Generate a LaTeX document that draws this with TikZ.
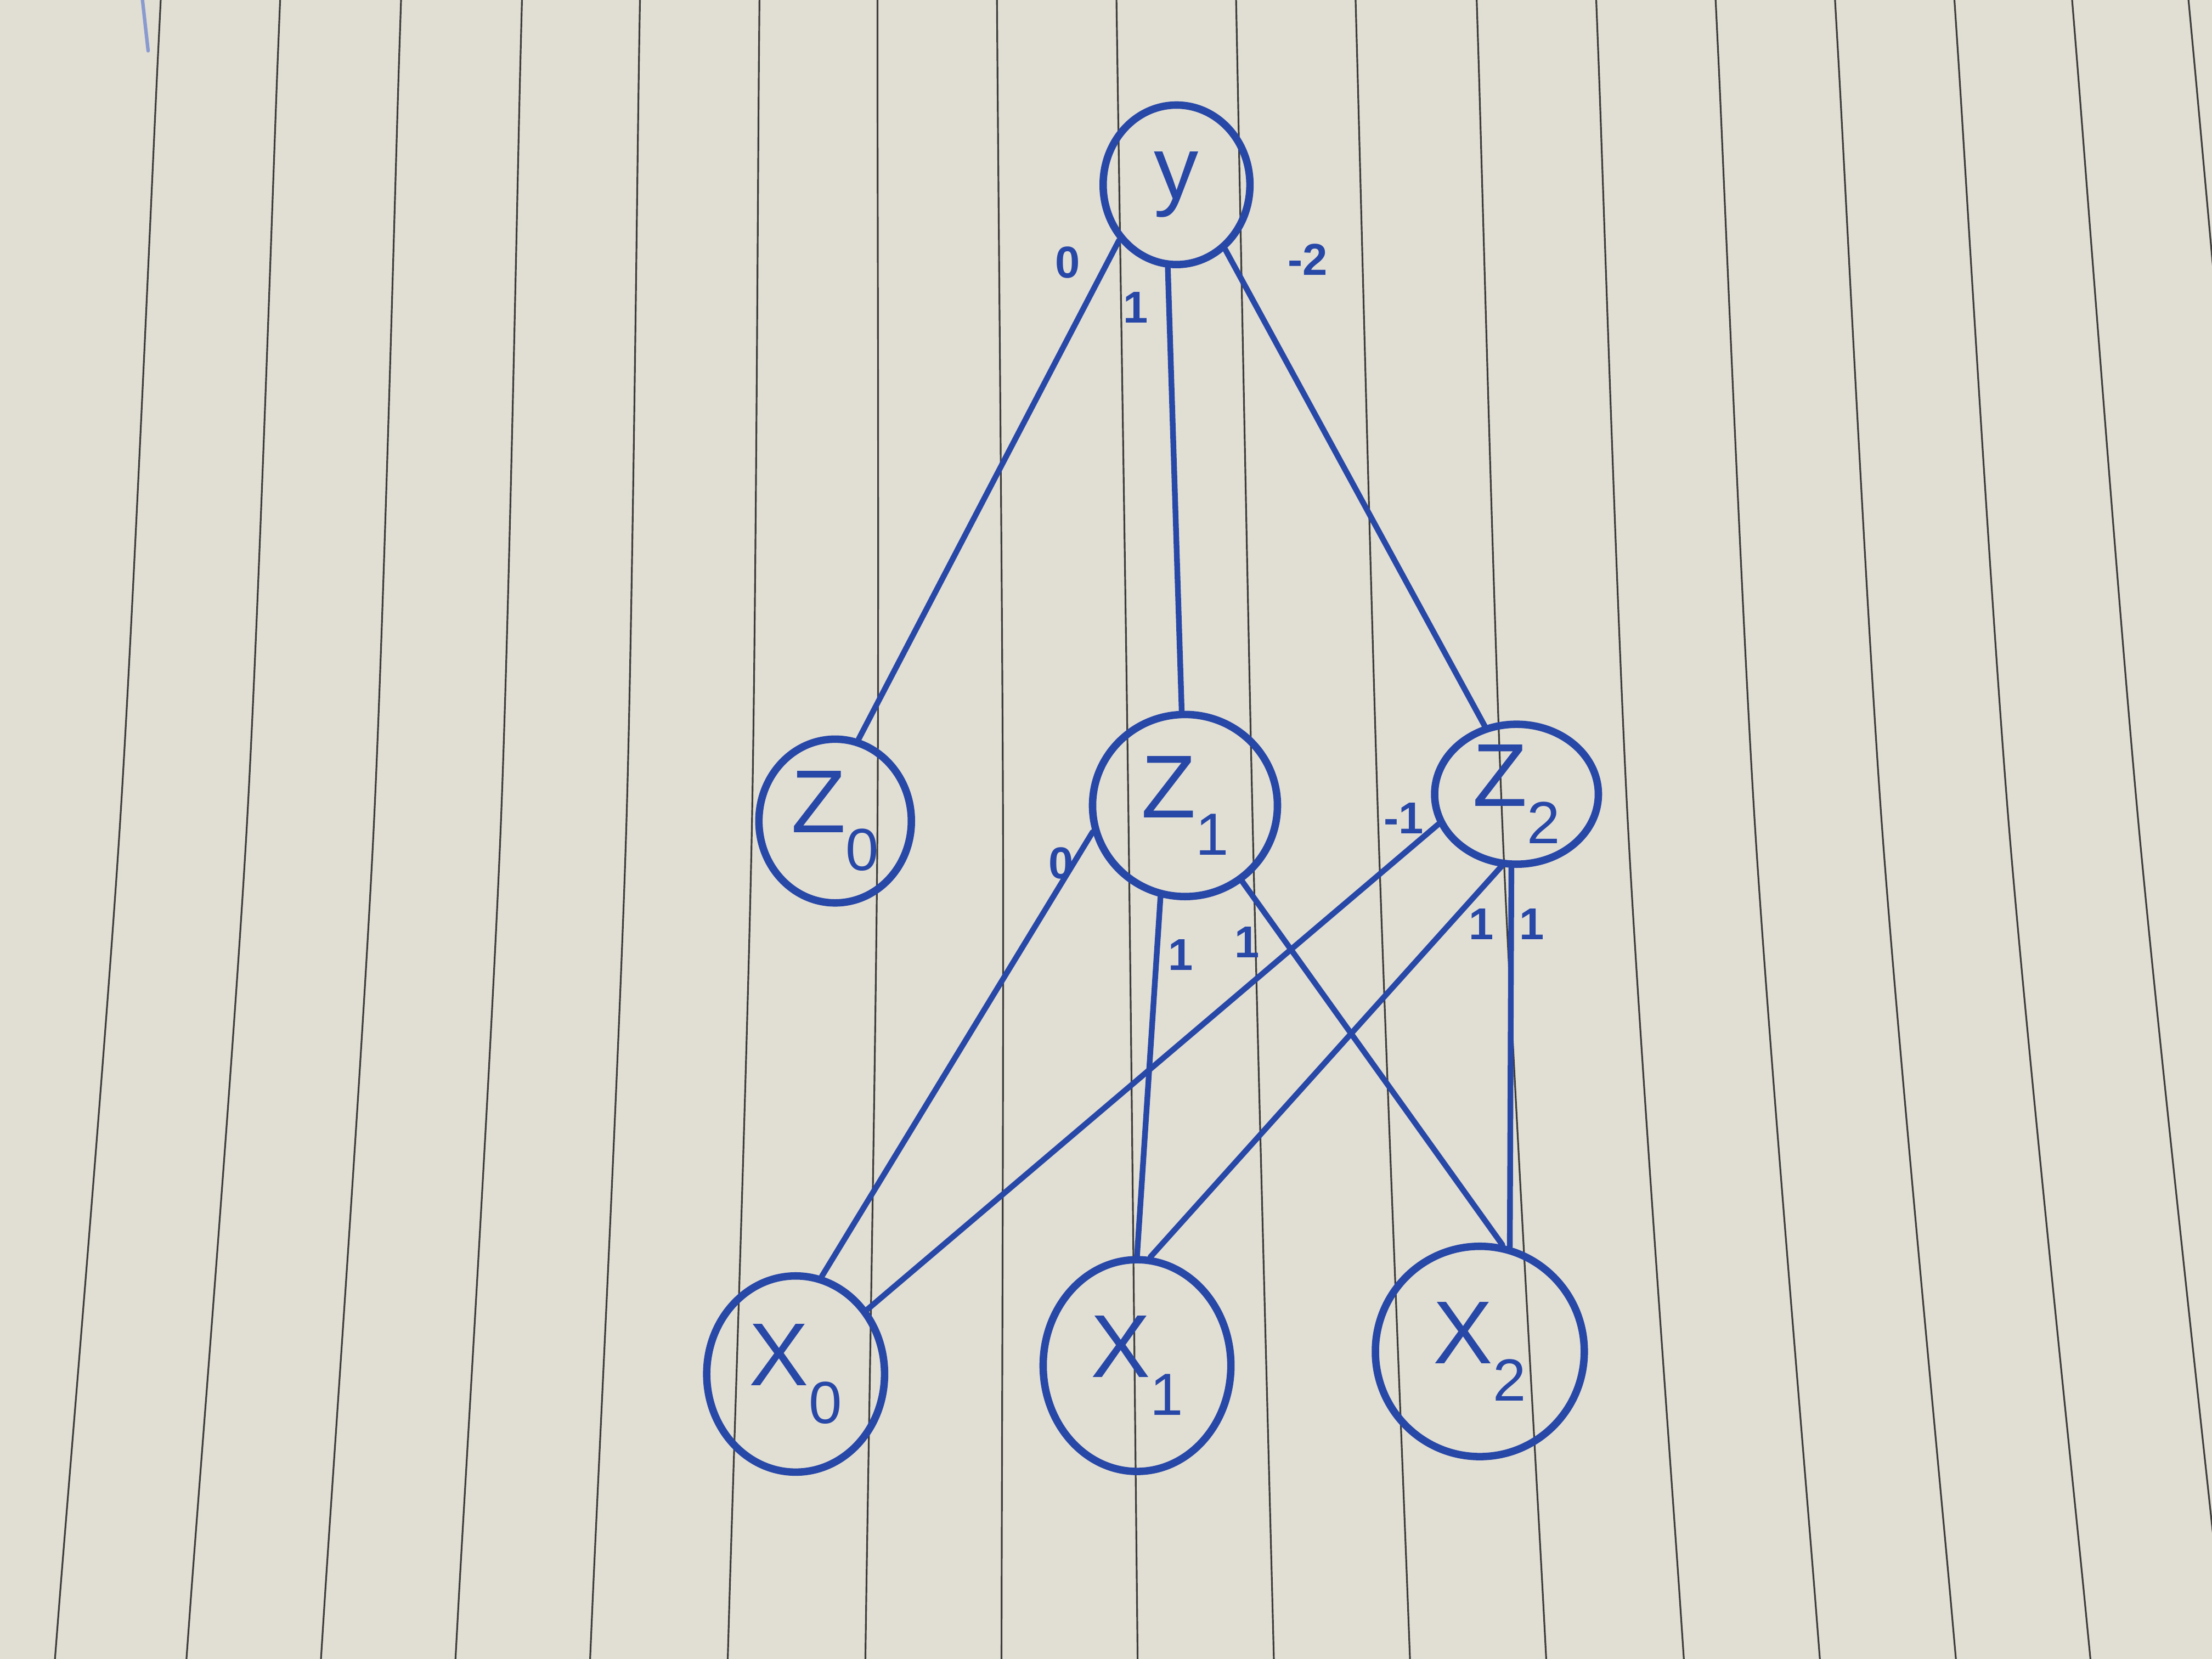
\documentclass[tikz,border=0pt]{standalone}
\usepackage{fontspec}
\setmainfont{Liberation Sans}
\usetikzlibrary{shapes.geometric}

\definecolor{paper}{RGB}{225,222,212}
\definecolor{ink}{RGB}{40,72,168}
\definecolor{rulecol}{RGB}{62,62,60}

% letter with a lowered index digit
\newcommand{\nodetxt}[2]{#1\raisebox{-0.42em}{\fontsize{12}{12}\selectfont #2}}

\tikzset{
  neuron/.style={draw=ink, line width=1.5pt, ellipse, inner sep=0pt, text=ink,
                 font=\fontsize{18}{20}\selectfont},
  wire/.style={draw=ink, line width=1.15pt, line cap=round},
  weight/.style={text=ink, font=\fontsize{9}{10}\selectfont\bfseries, inner sep=0pt},
  ruling/.style={draw=rulecol, line width=0.35pt},
}

\begin{document}
\begin{tikzpicture}[x=0.01cm, y=-0.01cm]
  % sheet of ruled paper
  \fill[paper] (0,0) rectangle (1568,1176);
  \useasboundingbox (0,0) rectangle (1568,1176);
  \begin{scope}
    \clip (0,0) rectangle (1568,1176);
    \foreach \a/\b/\c in {112/85/42, 197/175/135, 283/265/230, 369/355/325,
                          453/444/420, 538/533/517, 622/622/614, 707/711/710,
                          792/800/806, 877/888/902, 962/977/998, 1048/1065/1094,
                          1133/1154/1191, 1218/1244/1287, 1303/1334/1383,
                          1388/1424/1478, 1472/1516/1574, 1555/1606/1668} {
      \pgfmathsetmacro{\at}{\a+(\a-\b)*0.072}
      \pgfmathsetmacro{\cb}{\c+(\c-\b)*0.071}
      \draw[ruling] plot[smooth] coordinates {(\at,0) (\a,39) (\b,585) (\c,1137) (\cb,1176)};
    }
    % stray pen mark at the top edge
    \draw[ink!55, line width=0.7pt, line cap=round] (101,0) -- (103,18) -- (105,36);
  \end{scope}

  % neurons
  \node[neuron, minimum width=1.04cm, minimum height=1.13cm] (y)  at (834,131) {y};
  \node[neuron, minimum width=1.08cm, minimum height=1.16cm] (z0) at (592,582) {\nodetxt{Z}{0}};
  \node[neuron, minimum width=1.31cm, minimum height=1.29cm] (z1) at (840,571) {\nodetxt{Z}{1}};
  \node[neuron, minimum width=1.16cm, minimum height=0.98cm] (z2) at (1075,563) {\nodetxt{Z}{2}};
  \node[neuron, minimum width=1.26cm, minimum height=1.39cm] (x0) at (564,974) {\nodetxt{X}{0}};
  \node[neuron, minimum width=1.33cm, minimum height=1.50cm] (x1) at (806,968) {\nodetxt{X}{1}};
  \node[neuron, minimum width=1.48cm, minimum height=1.49cm] (x2) at (1049,958) {\nodetxt{X}{2}};

  % output layer connections
  \draw[wire] (y.224) -- (z0.74);
  \draw[wire] (y.264) -- (z1.92);
  \draw[wire] (y.307) -- (z2.115);

  % hidden layer connections
  \draw[wire] (z1.196) -- (x0.75);
  \draw[wire] (z1.255) -- (x1.90);
  \draw[wire] (z1.307) -- (x2.78);
  \draw[wire] (z2.201) -- (x0.42);
  \draw[wire] (z2.258) -- (x1.83);
  \draw[wire] (z2.266) -- (x2.74);

  % weights
  \node[weight] (w1) at (757,186) {0};
  \node[weight] (w2) at (805,218) {1};
  \node[weight] (w3) at (927,184) {-2};
  \node[weight] (w4) at (752,612) {0};
  \node[weight] (w5) at (837,677) {1};
  \node[weight] (w6) at (884,668) {1};
  \node[weight] (w7) at (995,580) {-1};
  \node[weight] (w8) at (1050,655) {1};
  \node[weight] (w9) at (1086,655) {1};
\end{tikzpicture}
\end{document}
